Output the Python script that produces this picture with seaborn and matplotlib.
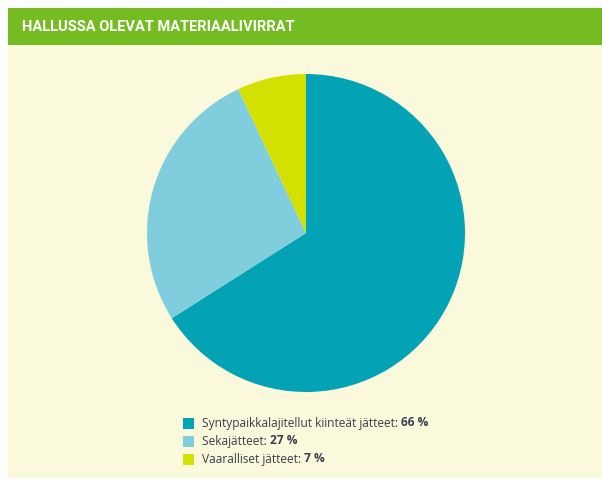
import matplotlib
matplotlib.use("Agg")
import matplotlib.pyplot as plt
import seaborn as sns
from matplotlib.patches import Rectangle

# data
categories = ["Syntypaikkalajitellut kiinteät jätteet", "Sekajätteet", "Vaaralliset jätteet"]
shares = [66, 27, 7]
value_labels = ["66 %", "27 %", "7 %"]
colors = ["#04a2b5", "#80cedd", "#d3e000"]

TITLE = "HALLUSSA OLEVAT MATERIAALIVIRRAT"
HEADER_GREEN = "#74bc22"
CREAM = "#fbf9dc"
TEXT_COLOR = "#3b3d4f"

sns.set_theme(style="white")
plt.rcParams["font.family"] = ["Open Sans", "DejaVu Sans"]

W, H = 602, 482
fig = plt.figure(figsize=(W / 100, H / 100), dpi=100)
fig.patch.set_facecolor("white")


def px_rect(x0, y0, x1, y1, color, z=0):
    # pixel box measured from top-left -> figure fraction patch
    fig.patches.append(Rectangle((x0 / W, 1 - y1 / H), (x1 - x0) / W, (y1 - y0) / H,
                                 transform=fig.transFigure, color=color, lw=0, zorder=z))


px_rect(8, 45, W, 478, CREAM, z=-2)
px_rect(8, 8, W, 45, HEADER_GREEN, z=-2)
fig.text(22 / W, 1 - 27 / H, TITLE, color="white", fontsize=10.5, fontweight="bold",
         family=["Roboto", "DejaVu Sans"], va="center", ha="left")

# pie: centre (306, 233) px, radius 159 px
cx, cy, r = 306, 233, 159
ax = fig.add_axes([(cx - r) / W, (H - cy - r) / H, 2 * r / W, 2 * r / H], zorder=2)
ax.patch.set_alpha(0)
ax.pie(shares, colors=colors, startangle=90, counterclock=False, radius=1,
       wedgeprops={"linewidth": 0})
ax.set_xlim(-1, 1)
ax.set_ylim(-1, 1)
ax.set_aspect("equal")
ax.axis("off")

# legend drawn by hand so the value can be bold
fig.canvas.draw()
renderer = fig.canvas.get_renderer()
for i, (name, val, col) in enumerate(zip(categories, value_labels, colors)):
    y = 423 + i * 18
    px_rect(183, y - 5.5, 194, y + 5.5, col, z=1)
    t = fig.text(202 / W, 1 - y / H, f"{name}: ", color=TEXT_COLOR, fontsize=8.6,
                 va="center", ha="left")
    bb = t.get_window_extent(renderer)
    fig.text(bb.x1 / W, 1 - y / H, val, color=TEXT_COLOR, fontsize=8.6,
             fontweight="bold", va="center", ha="left")

fig.savefig("out.png", dpi=100)
